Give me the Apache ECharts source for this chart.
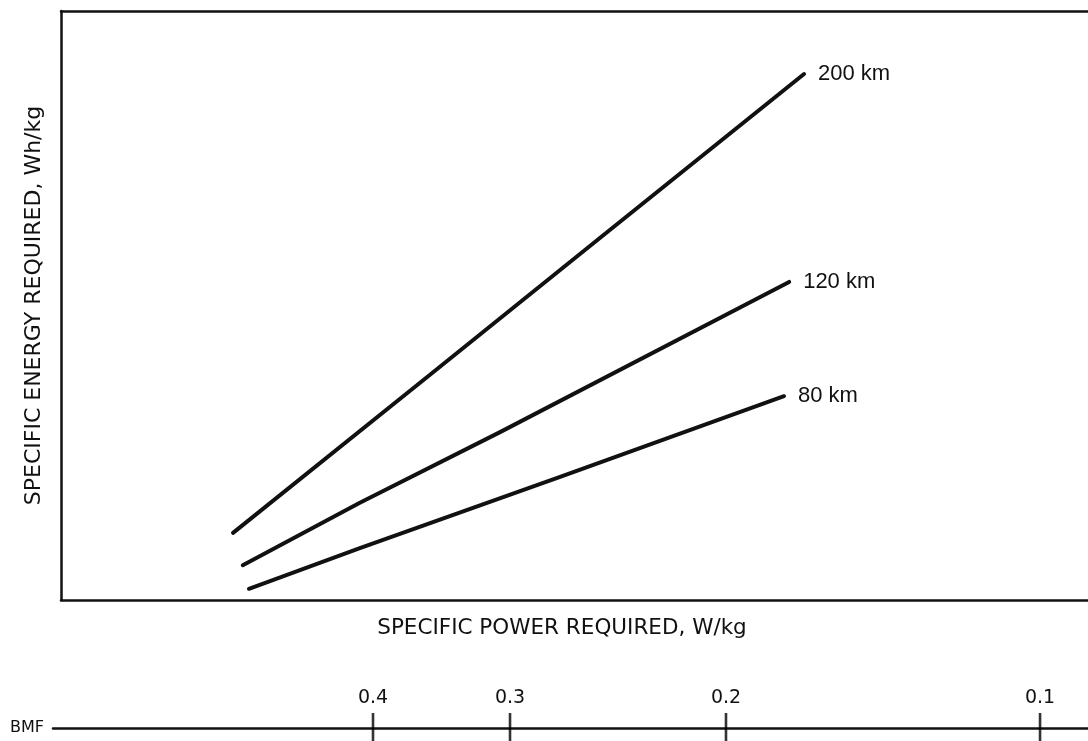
<!DOCTYPE html>
<html>
<head>
<meta charset="utf-8">
<title>Specific energy vs specific power</title>
<script src="https://cdn.jsdelivr.net/npm/echarts@6/dist/echarts.min.js"></script>
<style>
  html, body { margin: 0; padding: 0; background: #fff; }
  #chart { width: 1088px; height: 741px; }
</style>
</head>
<body>
<div id="chart"></div>
<script>
// Range curves: [specific power, specific energy] in relative units (0-100)
const range200 = [[16.75, 11.4], [35.9, 38.2], [52.5, 61.5], [72.35, 89.3]];
const range120 = [[17.7, 5.9], [29.1, 16.5], [42.75, 28.5], [70.9, 54.0]];
const range80  = [[18.3, 1.9], [29.1, 8.8], [48.6, 20.9], [70.4, 34.6]];
const seriesNames = ['200 km', '120 km', '80 km'];

// Battery mass fraction scale, placed along the same specific-power axis
const bmfLabels = ['0.4', '0.3', '0.2', '0.1'];
const bmfPositions = [30.38, 43.72, 64.75, 95.33];

const ink = '#111';
const titleFont = 'DejaVu Sans';

const lineSeries = [range200, range120, range80].map((d, i) => ({
  name: seriesNames[i],
  type: 'line',
  data: d,
  xAxisIndex: 0,
  yAxisIndex: 0,
  showSymbol: false,
  symbol: 'none',
  silent: true,
  lineStyle: { color: ink, width: 4, cap: 'round', join: 'round' },
  endLabel: {
    show: true,
    formatter: '{a}',
    distance: 14,
    color: ink,
    fontFamily: 'Liberation Sans',
    fontSize: 22
  }
}));

// Tick marks crossing the BMF scale line
const bmfTicks = {
  type: 'scatter',
  xAxisIndex: 1,
  yAxisIndex: 1,
  silent: true,
  symbol: 'rect',
  symbolSize: [2.6, 28],
  itemStyle: { color: '#000' },
  data: bmfPositions.map(p => [p, 0.5])
};

const hidden = {
  axisLine: { show: false }, axisTick: { show: false },
  axisLabel: { show: false }, splitLine: { show: false }
};
const frameLine = { show: true, onZero: false, lineStyle: { color: ink, width: 2.5 } };

const chart = echarts.init(document.getElementById('chart'), null, { renderer: 'canvas' });
chart.setOption({
  animation: false,
  backgroundColor: '#fff',
  grid: [
    { left: 61, right: 0, top: 11, bottom: 141, show: false },
    { left: 53, right: 0, top: 713, bottom: 0, show: false }
  ],
  xAxis: [
    {
      gridIndex: 0, type: 'value', min: 0, max: 100, position: 'bottom',
      ...hidden,
      axisLine: frameLine,
      name: 'SPECIFIC POWER REQUIRED, W/kg',
      nameLocation: 'middle', nameGap: 17,
      nameTextStyle: { color: ink, fontFamily: titleFont, fontSize: 21.5, padding: [0, 25, 0, 0] }
    },
    {
      gridIndex: 1, type: 'value', min: -0.78, max: 100, position: 'top',
      axisLine: { show: false },
      splitLine: { show: false },
      axisTick: { show: false },
      axisLabel: {
        show: true, customValues: bmfPositions, margin: 5,
        color: ink, fontFamily: titleFont, fontSize: 19,
        formatter: v => bmfLabels[bmfPositions.indexOf(v)]
      }
    },
    {
      gridIndex: 1, type: 'value', min: -0.78, max: 100, position: 'bottom', offset: -13,
      axisLine: { show: true, lineStyle: { color: ink, width: 2.5 } },
      axisTick: { show: false }, axisLabel: { show: false }, splitLine: { show: false },
      name: 'BMF', nameLocation: 'start', nameGap: 9,
      nameTextStyle: { color: ink, fontFamily: titleFont, fontSize: 16 }
    },
    {
      gridIndex: 0, type: 'value', min: 0, max: 100, position: 'top',
      ...hidden,
      axisLine: frameLine
    }
  ],
  yAxis: [
    {
      gridIndex: 0, type: 'value', min: 0, max: 100, position: 'left',
      ...hidden,
      axisLine: frameLine,
      name: 'SPECIFIC ENERGY REQUIRED, Wh/kg',
      nameLocation: 'middle', nameGap: 16, nameRotate: 90,
      nameTextStyle: { color: ink, fontFamily: titleFont, fontSize: 22 }
    },
    {
      gridIndex: 1, type: 'value', min: 0, max: 1, show: false
    }
  ],
  series: [...lineSeries, bmfTicks]
});
</script>
</body>
</html>
